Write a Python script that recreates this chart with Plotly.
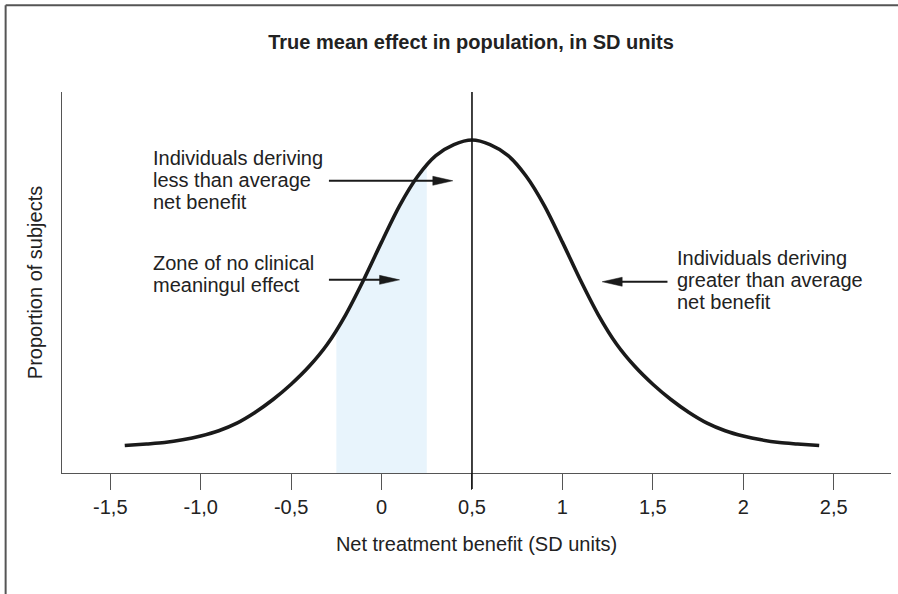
import plotly.graph_objects as go

# ---- data ----
x_vals = [-1.42, -1.3, -1.2, -1.1, -1.0, -0.9, -0.8, -0.7, -0.6, -0.5, -0.4, -0.3, -0.2, -0.1,
          0.0, 0.1, 0.2, 0.3, 0.4, 0.5, 0.6, 0.7, 0.8, 0.9, 1.0, 1.1, 1.2, 1.3, 1.4,
          1.5, 1.6, 1.7, 1.8, 1.9, 2.0, 2.1, 2.2, 2.3, 2.42]
y_vals = [0.072, 0.076, 0.080, 0.087, 0.097, 0.111, 0.131, 0.159, 0.193, 0.233, 0.280, 0.338, 0.414, 0.506,
          0.606, 0.702, 0.779, 0.833, 0.862, 0.874, 0.862, 0.833, 0.779, 0.702, 0.606, 0.506, 0.414, 0.338, 0.280,
          0.233, 0.193, 0.159, 0.131, 0.111, 0.097, 0.087, 0.080, 0.076, 0.072]
# shaded "zone of no clinical meaningful effect" (-0.25 .. 0.25), top edge on the curve
zone_x = [-0.25, -0.2, -0.1, 0.0, 0.1, 0.2, 0.25]
zone_y = [0.374, 0.414, 0.506, 0.606, 0.702, 0.779, 0.807]
mean_effect = 0.5
tick_vals = [-1.5, -1.0, -0.5, 0, 0.5, 1, 1.5, 2, 2.5]
tick_text = ['-1,5', '-1,0', '-0,5', '0', '0,5', '1', '1,5', '2', '2,5']

FONT = "Liberation Sans, Arial, Helvetica, sans-serif"
TXT = "#222222"
FS = 20

fig = go.Figure()
fig.add_trace(go.Scatter(x=zone_x, y=zone_y, mode="lines", line=dict(width=0, shape="spline"),
                         fill="tozeroy", fillcolor="#e8f4fc", hoverinfo="skip", showlegend=False))
fig.add_trace(go.Scatter(x=x_vals, y=y_vals, mode="lines",
                         line=dict(color="#1a1a1a", width=3.6, shape="spline", smoothing=0.9),
                         showlegend=False))

shapes = []
# vertical line at mean
shapes.append(dict(type="line", xref="x", yref="paper", x0=mean_effect, x1=mean_effect,
                   y0=-16/381, y1=1, line=dict(color="#111111", width=1.6), layer="above"))
# outer frame (top and left)
shapes.append(dict(type="line", xref="paper", yref="paper", x0=-0.068, x1=-0.068, y0=-0.4, y1=1.228,
                   line=dict(color="#555555", width=2)))
shapes.append(dict(type="line", xref="paper", yref="paper", x0=-0.068, x1=1.2, y0=1.228, y1=1.228,
                   line=dict(color="#555555", width=2)))

# arrows: (start x, tip x, y)
arrows = [(-0.291, 0.394, 0.767), (-0.291, 0.0995, 0.507), (1.581, 1.220, 0.502)]
for x0, x1, y in arrows:
    d = 1 if x1 > x0 else -1
    shapes.append(dict(type="line", xref="x", yref="y", x0=x0, x1=x1 - d * 0.05, y0=y, y1=y,
                       line=dict(color="#1a1a1a", width=2)))
    shapes.append(dict(type="path", xref="x", yref="y", xsizemode="pixel", ysizemode="pixel",
                       xanchor=x1, yanchor=y,
                       path=f"M0,0 L{-20*d},4.5 L{-20*d},-4.5 Z",
                       fillcolor="#1a1a1a", line=dict(color="#1a1a1a", width=0.5)))

annotations = []
def add_lines(x, ys, lines):
    for yy, t in zip(ys, lines):
        annotations.append(dict(x=x, y=yy, xref="x", yref="y", text=t, showarrow=False,
                                xanchor="left", yanchor="middle",
                                font=dict(family=FONT, size=FS, color=TXT)))

add_lines(-1.274, [0.827, 0.769, 0.711], ["Individuals deriving", "less than average", "net benefit"])
add_lines(-1.274, [0.550, 0.493], ["Zone of no clinical", "meaningul effect"])
add_lines(1.620, [0.564, 0.507, 0.450], ["Individuals deriving", "greater than average", "net benefit"])

fig.update_layout(
    width=898, height=594,
    margin=dict(l=62, r=7, t=92, b=121),
    paper_bgcolor="white", plot_bgcolor="white",
    font=dict(family=FONT, size=FS, color=TXT),
    title=dict(text="<b>True mean effect in population, in SD units</b>",
               xref="paper", x=0.4934, xanchor="center",
               yref="container", y=1 - 42/594, yanchor="middle",
               font=dict(family=FONT, size=20, color=TXT)),
    xaxis=dict(range=[-1.767, 2.817], showgrid=False, zeroline=False,
               showline=True, linecolor="#555555", linewidth=1.4,
               ticks="outside", ticklen=16, tickwidth=1.4, tickcolor="#555555",
               tickvals=tick_vals, ticktext=tick_text,
               tickfont=dict(family=FONT, size=FS, color=TXT),
               title=dict(text="Net treatment benefit (SD units)", standoff=19,
                          font=dict(family=FONT, size=FS, color=TXT))),
    yaxis=dict(range=[0, 1], showgrid=False, zeroline=False, showticklabels=False,
               showline=True, linecolor="#555555", linewidth=1.4, ticks="",
               title=dict(text="Proportion of subjects", standoff=12,
                          font=dict(family=FONT, size=FS, color=TXT))),
    shapes=shapes, annotations=annotations,
)

fig.write_html("out.html", config={"displayModeBar": False},
               post_script="document.body.style.margin='0px';")
